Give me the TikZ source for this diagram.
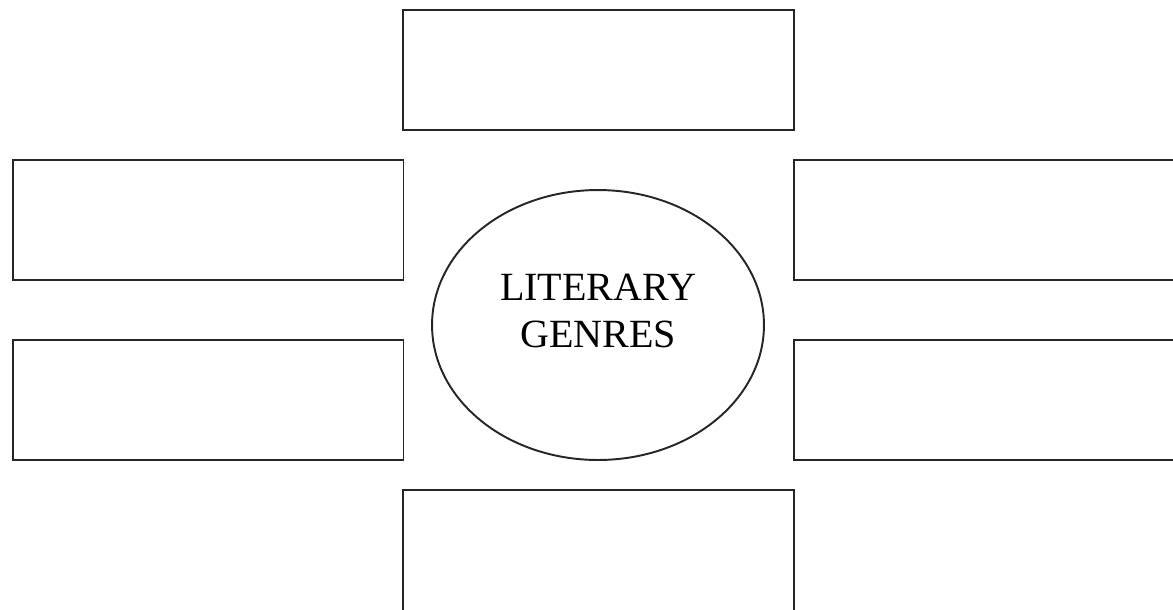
\documentclass[tikz,border=0pt]{standalone}
\usepackage{fontspec}
\setmainfont{Liberation Serif}
\usetikzlibrary{shapes.geometric, positioning}
\tikzstyle{genrebox} = [draw, rectangle, minimum width=7.82cm, minimum height=2.4cm, inner sep=0pt, line width=1.1pt, color=black!85]
\tikzstyle{hub} = [draw, ellipse, minimum width=6.64cm, minimum height=5.4cm, inner sep=0pt, line width=1.1pt, color=black!85]
\tikzstyle{hubtext} = [align=center, text=black, font=\fontsize{22.8}{26.6}\selectfont]

\begin{document}
\begin{tikzpicture}[x=0.02cm, y=-0.02cm]
    \clip (0,0) rectangle (1173,609);
    \node [hub] (genres) at (598,325) {};
    \node [hubtext] (genrestext) at (598,311) {LITERARY\\GENRES};
    \node [genrebox] (top) at (598.5,70) {};
    \node [genrebox] (left1) at (208,220) {};
    \node [genrebox] (left2) at (208,400) {};
    \node [genrebox] (right1) at (989.5,220) {};
    \node [genrebox] (right2) at (989.5,400) {};
    \node [genrebox, minimum height=2.5cm] (bottom) at (598.5,552.5) {};
\end{tikzpicture}
\end{document}
